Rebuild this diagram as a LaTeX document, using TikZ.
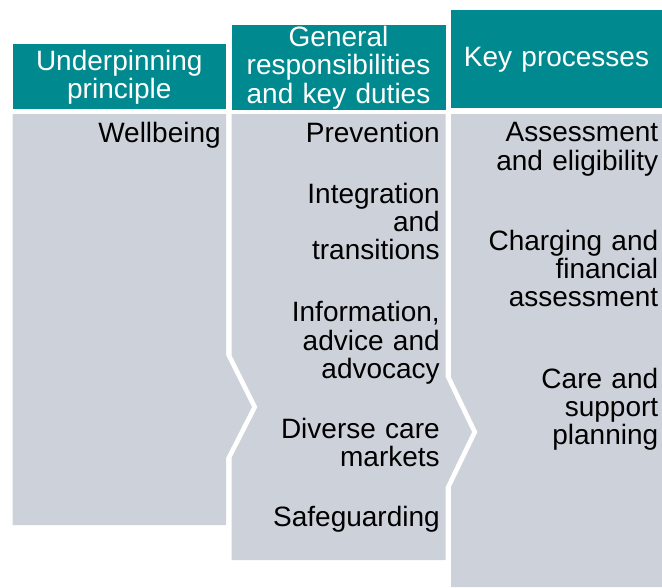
\documentclass[tikz,border=0pt]{standalone}
\usepackage{fontspec}
\setmainfont{Liberation Sans}
\definecolor{headteal}{RGB}{0,138,143}
\definecolor{panelgray}{RGB}{205,209,218}
\begin{document}
\begin{tikzpicture}[x=0.75pt,y=-0.75pt,
  hdbox/.style={fill=headteal},
  panel/.style={fill=panelgray},
  hdtext/.style={font=\fontsize{21}{21.2}\selectfont, text=white, align=center, inner sep=0pt, anchor=base, text width=160pt},
  bodytext/.style={font=\fontsize{21}{21.25}\selectfont, text=black, align=right, inner sep=0pt, anchor=base east, text width=150pt}]
\useasboundingbox (0,0) rectangle (662,587);

% headers
\fill[hdbox] (12.5,44) rectangle (226,109);
\fill[hdbox] (231.5,25) rectangle (445.5,110);
\fill[hdbox] (451,10) rectangle (662,108);

% body panels
\fill[panel] (12.5,114) -- (226,114) -- (226,355) -- (252,407) -- (226,458) -- (226,525) -- (12.5,525) -- cycle;
\fill[panel] (231.5,114) -- (445.5,114) -- (445.5,377) -- (472,432) -- (445.5,487) -- (445.5,560) -- (231.5,560) -- (231.5,458) -- (257.5,407) -- (231.5,355) -- cycle;
\fill[panel] (451,114) -- (662,114) -- (662,587) -- (451,587) -- (451,487) -- (477.5,432) -- (451,377) -- cycle;

% header texts
\node[hdtext] (h1) at (119.3,70) {Underpinning\\principle};
\node[hdtext] (h2) at (338.5,46.7) {General\\responsibilities\\and key duties};
\node[hdtext] (h3) at (556.5,66.7) {Key processes};

% column 1
\node[bodytext] (wellbeing) at (221,142) {Wellbeing};

% column 2
\node[bodytext] (prevention) at (440,142) {Prevention};
\node[bodytext] (integration) at (440,203) {Integration\\and\\transitions};
\node[bodytext] (information) at (440,321.7) {Information,\\advice and\\advocacy};
\node[bodytext] (diverse) at (440,438) {Diverse care\\markets};
\node[bodytext] (safeguarding) at (440,526.7) {Safeguarding};

% column 3
\node[bodytext] (assessment) at (658.5,141.7) {Assessment\\and eligibility};
\node[bodytext] (charging) at (658.5,250) {Charging and\\financial\\assessment};
\node[bodytext] (care) at (658.5,388) {Care and\\support\\planning};
\end{tikzpicture}
\end{document}
